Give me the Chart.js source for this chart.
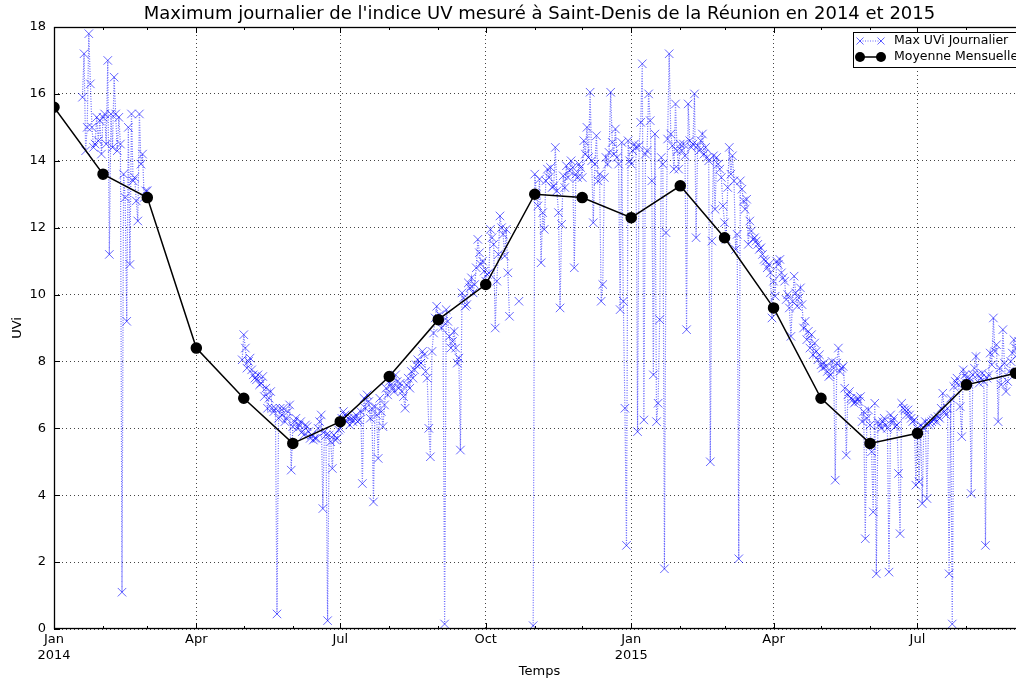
<!DOCTYPE html>
<html>
<head>
<meta charset="utf-8">
<title>Indice UV Saint-Denis</title>
<script src="https://cdn.jsdelivr.net/npm/chart.js@4.4.1/dist/chart.umd.min.js"></script>
<style>
  html, body { margin: 0; padding: 0; background: #fff; overflow: hidden; }
  #wrap { width: 1016px; height: 679px; overflow: hidden; }
  canvas { display: block; }
</style>
</head>
<body>
<div id="wrap"><canvas id="uvChart" width="1040" height="679"></canvas></div>
<script>
// Axis range and tick labels
const xStart = '2014-01-01';
const xEnd = '2015-09-07';
const tickDates = ['2014-01-01', '2014-04-01', '2014-07-01', '2014-10-01', '2015-01-01', '2015-04-01', '2015-07-01'];
const tickLabels = [['Jan', '2014'], 'Apr', 'Jul', 'Oct', ['Jan', '2015'], 'Apr', 'Jul'];

// Monthly means (plotted on the 1st of each month)
const monthlyDates = [
  '2014-01-01', '2014-02-01', '2014-03-01', '2014-04-01', '2014-05-01', '2014-06-01', '2014-07-01',
  '2014-08-01', '2014-09-01', '2014-10-01', '2014-11-01', '2014-12-01', '2015-01-01', '2015-02-01',
  '2015-03-01', '2015-04-01', '2015-05-01', '2015-06-01', '2015-07-01', '2015-08-01', '2015-09-01'
];
const monthlyMean = [15.6, 13.6, 12.9, 8.4, 6.9, 5.55, 6.2, 7.55, 9.25, 10.3, 13.0, 12.9, 12.3, 13.25, 11.7, 9.6, 6.9, 5.55, 5.85, 7.3, 7.65];

// Daily max UVi, one value per day from each start date
const dailyJanFeb2014 = [15.9, 17.2, 14.3, 15.0, 17.8, 16.3, 15.0, 14.4, 14.5, 15.3, 14.6, 15.2, 14.2, 15.3, 15.4, 14.5, 17.0, 11.2, 15.4, 14.4,
  16.5, 15.4, 14.3, 15.3, 14.5, 1.1, 13.6, 12.9, 9.2, 15.0, 10.9, 15.4, 13.4, 13.5, 12.8, 12.2, 15.4, 13.9, 14.2, 12.9, 13.1, 13.1];
const dailyMayOct2014 = [8.05, 8.8, 8.4, 7.8, 8.0, 8.1, 7.75, 7.6, 7.5, 7.45, 7.6, 7.3, 7.35, 7.55, 6.95, 7.2, 6.6, 6.9, 7.1, 6.6, 6.5, 6.6,
  0.45, 6.3, 6.6, 6.4, 6.6, 6.2, 6.3, 6.5, 6.7, 4.75, 6.05, 6.2, 6.3, 6.0, 6.1, 6.2, 5.9, 5.8, 6.1, 6.05, 5.9, 5.7, 5.8, 5.65, 5.7,
  5.7, 6.0, 6.2, 6.4, 3.6, 5.9, 5.8, 0.25, 5.8, 5.6, 4.8, 5.8, 5.65, 5.7, 5.95, 6.0, 6.3, 6.5, 6.4, 6.2, 6.3, 6.1, 6.3, 6.2, 6.3, 6.4,
  6.2, 6.25, 6.5, 4.35, 6.9, 6.6, 7.0, 6.8,
  6.3, 6.6, 3.8, 6.65, 6.4, 5.1, 6.9, 6.5, 6.05, 6.7, 7.2, 7.0, 7.4, 7.3, 7.2, 7.1, 7.6, 7.4, 7.2, 7.35, 7.1, 6.95, 6.6, 7.3, 7.5, 7.2,
  7.7, 7.5, 7.75,
  7.9, 8.05, 7.9, 7.95, 8.3, 8.2, 7.7, 7.5, 6.0, 5.15, 8.3, 8.85, 9.3, 9.65, 9.25, 9.4, 9.0, 9.2, 0.15, 9.55, 9.2, 8.75, 8.4, 8.6, 8.9,
  8.4, 7.95, 8.1, 5.35, 10.05, 9.9, 9.65, 9.7, 10.35, 10.2, 10.5, 10.05, 10.3, 10.8, 11.65, 11.25, 10.9, 11.0, 10.7, 10.4, 10.6, 10.65,
  11.95, 11.7, 11.5, 9.0, 10.4, 11.2, 12.35, 12.0, 11.8, 11.15, 11.95, 10.65, 9.35];
const dailyOct2014 = [9.8];
const dailyNov2014Feb2015 = [0.1, 13.6, 13.0, 12.65, 13.45, 10.95, 12.45, 11.95, 13.4, 13.75, 13.5, 13.8, 13.2, 13.25, 14.4, 13.1, 12.45,
  9.6, 12.1, 13.55, 13.2, 13.85, 13.5, 13.7, 14.0, 13.8, 10.8, 13.6, 13.5, 13.9, 13.8, 13.5, 14.6, 14.2, 15.0, 14.1, 16.05, 14.0, 12.15,
  13.9, 14.75, 13.4, 13.6, 9.8, 10.3, 13.5, 14.1, 13.9, 14.25, 16.05, 14.55, 14.2, 14.95, 14.1, 13.9, 9.55, 14.55, 9.8, 6.6, 2.5, 14.6,
  14.0, 13.9, 14.3, 14.5, 14.4, 5.9, 14.45, 15.15, 16.9, 6.25, 14.2, 14.3, 16.0, 15.2, 13.4, 7.6, 14.8, 6.2, 6.75, 9.25, 14.1, 13.9,
  1.8, 11.85, 14.65, 17.2, 14.8, 14.45, 13.75, 15.7, 14.3, 13.75, 14.5, 14.3, 14.5, 14.15, 8.95, 15.7];
const dailyFebMay2015 = [14.6, 14.4, 14.5, 16.0, 11.7, 14.45, 14.3, 14.6, 14.8, 14.2, 14.4, 14.1, 14.0, 5.0, 11.6, 14.15, 12.55, 14.1,
  13.9, 13.75, 13.5, 12.65, 12.15, 11.65, 13.2, 14.4, 13.6, 14.15, 13.4, 11.35, 11.8, 2.1, 13.4, 13.15, 12.8, 12.55, 12.85, 11.5, 12.2,
  11.9, 11.65, 11.7, 11.6, 11.5, 11.35, 11.4, 11.2, 11.05, 11.0, 10.8, 10.9, 10.65, 9.3, 10.4, 9.95, 11.0, 10.9, 11.05, 10.65, 10.5,
  10.4, 9.85, 10.0, 9.6, 8.75, 9.8, 10.55, 10.05, 9.65, 9.9, 10.2, 9.7, 9.0, 9.2, 8.65, 8.9, 8.4, 8.8, 8.2, 8.55, 8.3, 8.05, 8.2, 7.9,
  7.8, 7.95, 7.85, 7.7, 7.55, 7.6, 8.0, 7.8, 4.45, 7.95, 8.4, 7.7, 7.8, 7.85, 7.2, 5.2, 7.0];
const dailyMaySep2015 = [7.1, 6.9, 6.85, 6.75, 6.8, 6.9, 6.8, 6.95, 6.2, 6.5, 2.7, 6.3, 6.55, 6.1, 5.3, 3.5, 6.75, 1.65, 6.2, 6.1,
  6.0, 6.2, 6.3, 6.1, 6.0, 1.7, 6.4, 6.2, 6.3, 6.05, 6.1, 4.65, 2.85, 6.75, 6.6, 6.55, 6.4, 6.55, 6.4, 6.3, 6.2, 6.25, 4.3, 6.0, 4.4,
  6.1, 3.75, 6.0, 6.2, 3.9, 6.1, 6.15, 6.2, 6.25, 6.3, 6.2, 6.35, 6.3, 6.6, 7.05, 6.5, 6.4, 6.6, 1.65, 6.9, 0.15, 7.25, 7.4, 7.5, 7.3,
  6.65, 5.75, 7.75, 7.6, 7.5, 7.35, 7.5, 4.05, 7.6, 7.8, 8.15, 7.6, 7.35, 7.5, 7.65, 7.4, 2.5, 7.5, 7.6, 8.25, 7.9, 9.3, 8.3, 8.5,
  6.2, 7.8, 7.3, 8.95, 7.95, 7.1, 7.4, 7.7, 8.0, 8.25, 8.65, 8.4, 8.2, 8.6, 8.0, 8.4, 8.3];

const dailySegments = [
  { start: '2014-01-19', values: dailyJanFeb2014 },
  { start: '2014-04-30', values: dailyMayOct2014 },
  { start: '2014-10-22', values: dailyOct2014 },
  { start: '2014-10-31', values: dailyNov2014Feb2015 },
  { start: '2015-02-07', values: dailyFebMay2015 },
  { start: '2015-05-19', values: dailyMaySep2015 }
];

const dailyColor = 'rgba(0, 0, 255, 0.6)';

// days since 1 Jan 2014
const dayOf = (s) => (Date.parse(s) - Date.parse(xStart)) / 86400000;
const tickDays = tickDates.map(dayOf);
const monthDays = monthlyDates.map(dayOf);

// build daily points, break the line where days are missing
const dailyPoints = [];
let lastDay = null;
dailySegments.forEach((seg) => {
  const d0 = dayOf(seg.start);
  if (lastDay !== null && d0 > lastDay + 1) {
    dailyPoints.push({ x: lastDay + 1, y: null });
  }
  seg.values.forEach((v, i) => dailyPoints.push({ x: d0 + i, y: v }));
  lastDay = d0 + seg.values.length - 1;
});

const monthlyPoints = monthlyDates.map((d, i) => ({ x: dayOf(d), y: monthlyMean[i] }));

// frame, inner ticks and legend like the original plot
const frameAndLegend = {
  id: 'frameAndLegend',
  afterDraw(chart) {
    const { ctx, chartArea: a, scales } = chart;
    const x = scales.x;
    const y = scales.y;
    ctx.save();
    ctx.strokeStyle = '#000';
    ctx.lineWidth = 1;
    ctx.setLineDash([]);
    ctx.beginPath();
    monthDays.forEach((d) => {
      const px = Math.round(x.getPixelForValue(d)) + 0.5;
      const len = tickDays.includes(d) ? 6 : 3;
      ctx.moveTo(px, a.bottom);
      ctx.lineTo(px, a.bottom - len);
      ctx.moveTo(px, a.top);
      ctx.lineTo(px, a.top + len);
    });
    y.ticks.forEach((t) => {
      const py = Math.round(y.getPixelForValue(t.value)) + 0.5;
      ctx.moveTo(a.left, py);
      ctx.lineTo(a.left + 6, py);
      ctx.moveTo(a.right, py);
      ctx.lineTo(a.right - 6, py);
    });
    ctx.stroke();
    ctx.lineWidth = 1.3;
    ctx.strokeRect(Math.round(a.left) + 0.5, Math.round(a.top) + 0.5,
      Math.round(a.right - a.left) - 1, Math.round(a.bottom - a.top) - 1);

    // legend box
    const lx = Math.round(a.right) - 172;
    const ly = Math.round(a.top) + 5;
    const lw = 167;
    const lh = 35;
    ctx.lineWidth = 1;
    ctx.fillStyle = '#fff';
    ctx.fillRect(lx, ly, lw, lh);
    ctx.strokeRect(lx + 0.5, ly + 0.5, lw, lh);

    const r1 = ly + 9;
    const r2 = ly + 25;
    const h0 = lx + 7;
    const h1 = lx + 28;

    // daily handle
    ctx.strokeStyle = dailyColor;
    ctx.setLineDash([1, 1.5]);
    ctx.beginPath();
    ctx.moveTo(h0, r1);
    ctx.lineTo(h1, r1);
    ctx.stroke();
    ctx.setLineDash([]);
    [h0, h1].forEach((hx) => {
      ctx.beginPath();
      ctx.moveTo(hx - 3.5, r1 - 3.5);
      ctx.lineTo(hx + 3.5, r1 + 3.5);
      ctx.moveTo(hx - 3.5, r1 + 3.5);
      ctx.lineTo(hx + 3.5, r1 - 3.5);
      ctx.stroke();
    });

    // monthly handle
    ctx.strokeStyle = '#000';
    ctx.fillStyle = '#000';
    ctx.lineWidth = 1.5;
    ctx.beginPath();
    ctx.moveTo(h0, r2);
    ctx.lineTo(h1, r2);
    ctx.stroke();
    [h0, h1].forEach((hx) => {
      ctx.beginPath();
      ctx.arc(hx, r2, 5, 0, Math.PI * 2);
      ctx.fill();
    });

    ctx.font = '12.5px "DejaVu Sans"';
    ctx.textBaseline = 'middle';
    ctx.textAlign = 'left';
    ctx.fillText('Max UVi Journalier', lx + 41, r1);
    ctx.fillText('Moyenne Mensuelle', lx + 41, r2);
    ctx.restore();
  }
};

Chart.defaults.font.family = '"DejaVu Sans", sans-serif';
Chart.defaults.font.size = 13;
Chart.defaults.color = '#000';

const ctx = document.getElementById('uvChart').getContext('2d');
new Chart(ctx, {
  type: 'line',
  data: {
    datasets: [
      {
        label: 'Moyenne Mensuelle',
        data: monthlyPoints,
        borderColor: '#000',
        borderWidth: 1.5,
        pointRadius: 5,
        pointBackgroundColor: '#000',
        pointBorderColor: '#000',
        tension: 0,
        order: 0
      },
      {
        label: 'Max UVi Journalier',
        data: dailyPoints,
        borderColor: dailyColor,
        borderWidth: 1.2,
        borderDash: [1, 1.5],
        pointStyle: 'crossRot',
        pointRadius: 6,
        pointBorderColor: dailyColor,
        pointBackgroundColor: 'transparent',
        pointBorderWidth: 1,
        spanGaps: false,
        tension: 0,
        order: 1
      }
    ]
  },
  options: {
    responsive: false,
    devicePixelRatio: 1,
    animation: false,
    events: [],
    layout: { padding: { left: 0, right: 15, top: 0, bottom: 0 } },
    plugins: {
      legend: { display: false },
      tooltip: { enabled: false },
      title: {
        display: true,
        fullSize: false,
        text: "Maximum journalier de l'indice UV mesuré à Saint-Denis de la Réunion en 2014 et 2015",
        color: '#000',
        font: { size: 18, weight: 'normal', lineHeight: 1.15 },
        padding: { top: 4, bottom: 2.3 }
      }
    },
    scales: {
      x: {
        type: 'linear',
        min: dayOf(xStart),
        max: dayOf(xEnd),
        afterBuildTicks: (scale) => {
          scale.ticks = tickDays.map((v) => ({ value: v }));
        },
        afterFit: (scale) => {
          scale.height = 50;
        },
        ticks: {
          autoSkip: false,
          maxRotation: 0,
          padding: 2,
          color: '#000',
          font: { size: 13, lineHeight: 1.25 },
          callback: (value) => tickLabels[tickDays.indexOf(value)]
        },
        grid: { color: '#444', lineWidth: 1, drawTicks: false },
        border: { display: false, dash: [1, 3] },
        title: {
          display: true,
          text: 'Temps',
          color: '#000',
          font: { size: 13 },
          padding: { top: 0, bottom: 0 }
        }
      },
      y: {
        min: 0,
        max: 18,
        afterFit: (scale) => {
          scale.width = 54;
        },
        ticks: { stepSize: 2, padding: 8, color: '#000', font: { size: 13 } },
        grid: { color: '#444', lineWidth: 1, drawTicks: false },
        border: { display: false, dash: [1, 3] },
        title: {
          display: true,
          text: 'UVi',
          color: '#000',
          font: { size: 13 },
          padding: { top: 10, bottom: 0 }
        }
      }
    }
  },
  plugins: [frameAndLegend]
});
</script>
</body>
</html>
